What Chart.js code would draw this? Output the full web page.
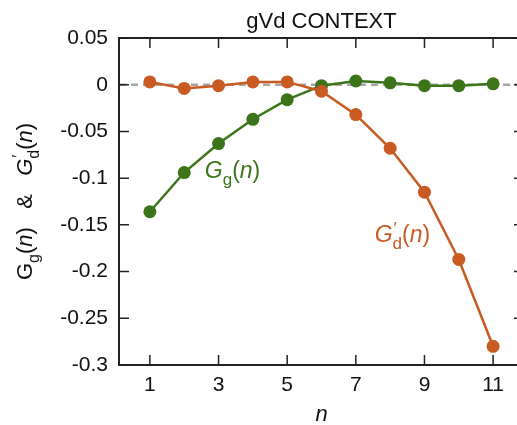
<!DOCTYPE html>
<html><head><meta charset="utf-8">
<script src="https://cdn.jsdelivr.net/npm/chart.js@4"></script>
<style>html,body{margin:0;padding:0;overflow:hidden;background:#fff}#wrap{width:540px;height:425px}</style>
</head><body><div id="wrap"><canvas id="c" width="540" height="425"></canvas></div>
<script>
const nValues = [1,2,3,4,5,6,7,8,9,10,11];
const gGValues = [-0.136,-0.094,-0.063,-0.037,-0.016,-0.001,0.004,0.002,-0.001,-0.001,0.001];
const gDValues = [0.003,-0.004,-0.001,0.003,0.003,-0.007,-0.032,-0.068,-0.115,-0.187,-0.280];
const xTicks = [1,3,5,7,9,11];
const yTicks = [0.05,0,-0.05,-0.1,-0.15,-0.2,-0.25,-0.3];
const titleText = 'gVd CONTEXT';

const GREEN = '#3b7419';
const ORANGE = '#c95a22';
const FONT = '"Liberation Sans", Arial, sans-serif';

function drawSegments(ctx, x, y, segs, size, color, align) {
  const subSize = Math.round(size * 0.72);
  const fontFor = (s) => (s.italic ? 'italic ' : '') + (s.sub || s.sup ? subSize : size) + 'px ' + FONT;
  const widths = segs.map(s => {
    ctx.font = fontFor(s);
    const w = ctx.measureText(s.t).width;
    return s.noAdvance ? 0 : w;
  });
  const total = widths.reduce((a,b)=>a+b,0);
  let cx = align === 'center' ? x - total/2 : x;
  ctx.fillStyle = color;
  ctx.textBaseline = 'alphabetic';
  ctx.textAlign = 'left';
  segs.forEach((s,i) => {
    ctx.font = fontFor(s);
    let dy = 0;
    if (s.sub) dy = size * 0.3;
    if (s.sup) dy = -size * 0.35;
    ctx.fillText(s.t, cx + (s.dx || 0), y + dy);
    cx += widths[i];
  });
}

const gLabel = [{t:'G',italic:true},{t:'g',sub:true},{t:'('},{t:'n',italic:true},{t:')'}];
const dLabel = [{t:'G',italic:true},{t:'\u2032',sup:true,noAdvance:true,dx:1},{t:'d',sub:true},{t:'('},{t:'n',italic:true},{t:')'}];
const yTitle = [{t:'G'},{t:'g',sub:true},{t:'('},{t:'n',italic:true},{t:')'},{t:'   &   '},
  {t:'G',italic:true},{t:'\u2032',sup:true,noAdvance:true,dx:1},{t:'d',sub:true},{t:'('},{t:'n',italic:true},{t:')'}];

const framePlugin = {
  id: 'frame',
  beforeDatasetsDraw(chart) {
    const {ctx, chartArea: a, scales: {x, y}} = chart;
    ctx.save();
    ctx.strokeStyle = '#a6a6a6';
    ctx.lineWidth = 2.5;
    ctx.setLineDash([7,5]);
    const y0 = y.getPixelForValue(0);
    ctx.beginPath(); ctx.moveTo(a.left, y0); ctx.lineTo(a.right, y0); ctx.stroke();
    ctx.restore();
  },
  afterDatasetsDraw(chart) {
    const {ctx, chartArea: a, scales: {x, y}} = chart;
    ctx.save();
    ctx.strokeStyle = '#222';
    ctx.lineWidth = 2;
    ctx.setLineDash([]);
    ctx.strokeRect(a.left, a.top, a.right - a.left, a.bottom - a.top);
    const L = 10;
    ctx.lineWidth = 1.5;
    ctx.beginPath();
    xTicks.forEach(v => {
      const px = x.getPixelForValue(v);
      ctx.moveTo(px, a.bottom); ctx.lineTo(px, a.bottom - L);
      ctx.moveTo(px, a.top); ctx.lineTo(px, a.top + L);
    });
    yTicks.forEach(v => {
      const py = y.getPixelForValue(v);
      ctx.moveTo(a.left, py); ctx.lineTo(a.left + L, py);
      ctx.moveTo(a.right, py); ctx.lineTo(a.right - L, py);
    });
    ctx.stroke();
    ctx.fillStyle = '#111';
    ctx.font = '22px ' + FONT;
    ctx.textAlign = 'center';
    ctx.textBaseline = 'alphabetic';
    ctx.fillText(titleText, (a.left + a.right) / 2, 28);
    ctx.font = 'italic 22px ' + FONT;
    ctx.fillText('n', (a.left + a.right) / 2, 421);
    drawSegments(ctx, x.getPixelForValue(2.6), y.getPixelForValue(-0.1), gLabel, 23, GREEN, 'left');
    drawSegments(ctx, x.getPixelForValue(7.55), y.getPixelForValue(-0.168), dLabel, 23, ORANGE, 'left');
    ctx.save();
    ctx.translate(32, (a.top + a.bottom) / 2);
    ctx.rotate(-Math.PI / 2);
    drawSegments(ctx, 0, 0, yTitle, 22, '#111', 'center');
    ctx.restore();
    ctx.restore();
  }
};

new Chart(document.getElementById('c'), {
  type: 'line',
  data: {
    datasets: [
      { label: 'Gd', data: nValues.map((n,i)=>({x:n, y:gDValues[i]})), borderColor: ORANGE, backgroundColor: ORANGE,
        borderWidth: 2.5, pointRadius: 6.5, pointHoverRadius: 6.5, pointBorderWidth: 0, tension: 0 },
      { label: 'Gg', data: nValues.map((n,i)=>({x:n, y:gGValues[i]})), borderColor: GREEN, backgroundColor: GREEN,
        borderWidth: 2.5, pointRadius: 6.5, pointHoverRadius: 6.5, pointBorderWidth: 0, tension: 0 }
    ]
  },
  options: {
    responsive: false,
    animation: false,
    events: [],
    layout: { padding: { top: 38, right: 16, left: 0, bottom: 0 } },
    plugins: { legend: { display: false }, title: { display: false }, tooltip: { enabled: false } },
    scales: {
      x: {
        type: 'linear', min: 0.1, max: 11.9,
        afterBuildTicks: s => { s.ticks = xTicks.map(v => ({value: v})); },
        afterFit: s => { s.height = 60; },
        grid: { display: false, drawTicks: false },
        border: { display: false },
        ticks: { color: '#111', font: { family: FONT, size: 21 }, padding: 8, maxRotation: 0, autoSkip: false,
          callback: v => String(v) }
      },
      y: {
        type: 'linear', min: -0.3, max: 0.05,
        afterBuildTicks: s => { s.ticks = yTicks.map(v => ({value: v})); },
        afterFit: s => { s.width = 119; },
        grid: { display: false, drawTicks: false },
        border: { display: false },
        ticks: { color: '#111', font: { family: FONT, size: 21 }, padding: 11, autoSkip: false,
          callback: v => String(parseFloat(Number(v).toFixed(2))) }
      }
    }
  },
  plugins: [framePlugin]
});
</script>
</body></html>
